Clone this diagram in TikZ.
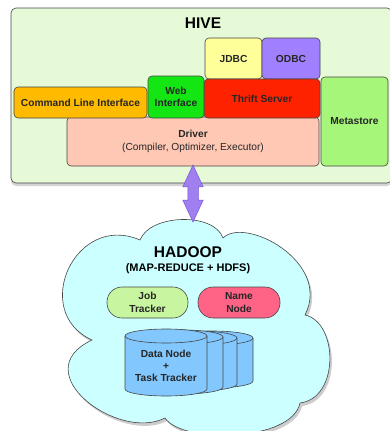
\documentclass[tikz,border=0pt]{standalone}
\usepackage{fontspec}
\setmainfont{Liberation Sans}
\usetikzlibrary{shapes.arrows,shadows}
\definecolor{hivebg}{RGB}{230,250,215}
\definecolor{edgec}{RGB}{70,70,70}
\definecolor{jdbcc}{RGB}{255,255,153}
\definecolor{odbcc}{RGB}{160,128,255}
\definecolor{webc}{RGB}{20,230,20}
\definecolor{thriftc}{RGB}{255,34,0}
\definecolor{clic}{RGB}{255,187,0}
\definecolor{driverc}{RGB}{255,200,180}
\definecolor{metac}{RGB}{166,246,122}
\definecolor{jobc}{RGB}{200,245,160}
\definecolor{namec}{RGB}{255,100,135}
\definecolor{drumc}{RGB}{130,200,255}
\definecolor{cloudc}{RGB}{204,255,255}
\definecolor{arrowc}{RGB}{160,128,240}
\definecolor{arrowd}{RGB}{115,85,210}
\begin{document}
\begin{tikzpicture}[x=1pt,y=-1pt,
  font=\fontsize{10.2}{12.3}\selectfont\bfseries,
  box/.style={draw=edgec, line width=0.6pt, rounded corners=4pt, inner sep=0pt, align=center, text=black!85},
  pill/.style={box, rounded corners=15pt},
  drum/.style={draw=edgec, line width=0.6pt, fill=drumc},
  title/.style={font=\fontsize{15.5}{18}\selectfont\bfseries, inner sep=0pt}]
\useasboundingbox (0,0) rectangle (390,431);

% HIVE container
\node[box, fill=hivebg, rounded corners=5pt, minimum width=381pt, minimum height=175pt,
      drop shadow={shadow xshift=0pt, shadow yshift=-3pt, opacity=0.35}] (hive) at (201.5,95.5) {};
\node[title] (hivet) at (203,23) {HIVE};

\node[box, fill=driverc, minimum width=252pt, minimum height=49pt] (driver) at (193,141.5)
  {Driver\\[1pt]{\mdseries (Compiler, Optimizer, Executor)}};
\node[box, fill=jdbcc, minimum width=57pt, minimum height=41pt] (jdbc) at (233.5,58.5) {JDBC};
\node[box, fill=odbcc, minimum width=58pt, minimum height=41pt] (odbc) at (291,58.5) {ODBC};
\node[box, fill=thriftc, minimum width=116pt, minimum height=39pt] (thrift) at (262,98.5) {Thrift Server};
\node[box, fill=webc, minimum width=56pt, minimum height=42pt] (web) at (176,97) {Web\\Interface};
\node[box, fill=clic, minimum width=133pt, minimum height=31pt] (cli) at (80.5,102.5) {Command Line Interface};
\node[box, fill=metac, minimum width=67pt, minimum height=89pt] (meta) at (354.5,121.5) {Metastore};

% HADOOP cloud
\path[draw=edgec, line width=0.6pt, fill=cloudc,
      drop shadow={shadow xshift=2pt, shadow yshift=-3pt, opacity=0.4}]
  (140,240) .. controls (150,214) and (214,212) .. (223,238)
  .. controls (245,216) and (332,262) .. (305,315)
  .. controls (338,322) and (340,398) .. (300,403)
  .. controls (292,442) and (182,444) .. (165,418)
  .. controls (118,442) and (24,372) .. (92,340)
  .. controls (30,312) and (75,212) .. (140,240) -- cycle;

\node[title] (hadoop) at (188,252) {HADOOP};
\node[inner sep=0pt, font=\fontsize{11}{13}\selectfont\bfseries] (mr) at (188,269) {(MAP-REDUCE + HDFS)};
\node[pill, fill=jobc, minimum width=81pt, minimum height=31pt] (job) at (147.5,302.5) {Job\\Tracker};
\node[pill, fill=namec, minimum width=82pt, minimum height=31pt] (name) at (239,302.5) {Name\\Node};

% stacked data node cylinders (back to front)
\foreach \xl/\t/\b in {171/331/388, 155/331/391, 141/330/394, 125/329/396} {
  \path[drum] (\xl,\t+7) -- (\xl,\b-7) arc[start angle=180, end angle=360, x radius=41pt, y radius=7pt]
    -- (\xl+82,\t+7) arc[start angle=0, end angle=180, x radius=41pt, y radius=7pt] -- cycle;
  \draw[edgec, line width=0.6pt] (\xl,\t+7) arc[start angle=180, end angle=360, x radius=41pt, y radius=7pt];
}
\node[inner sep=0pt, align=center, text=black!85] (dn) at (166,366) {Data Node\\+\\Task Tracker};

% double arrow between Hive driver and Hadoop
\node[double arrow, rotate=90, draw=arrowd, fill=arrowc, line width=0.5pt,
      inner xsep=0pt, inner ysep=5pt, text height=0pt, text depth=0pt,
      minimum height=57pt, double arrow head extend=5pt,
      double arrow tip angle=50] (link) at (193,193.5) {};
\end{tikzpicture}
\end{document}
